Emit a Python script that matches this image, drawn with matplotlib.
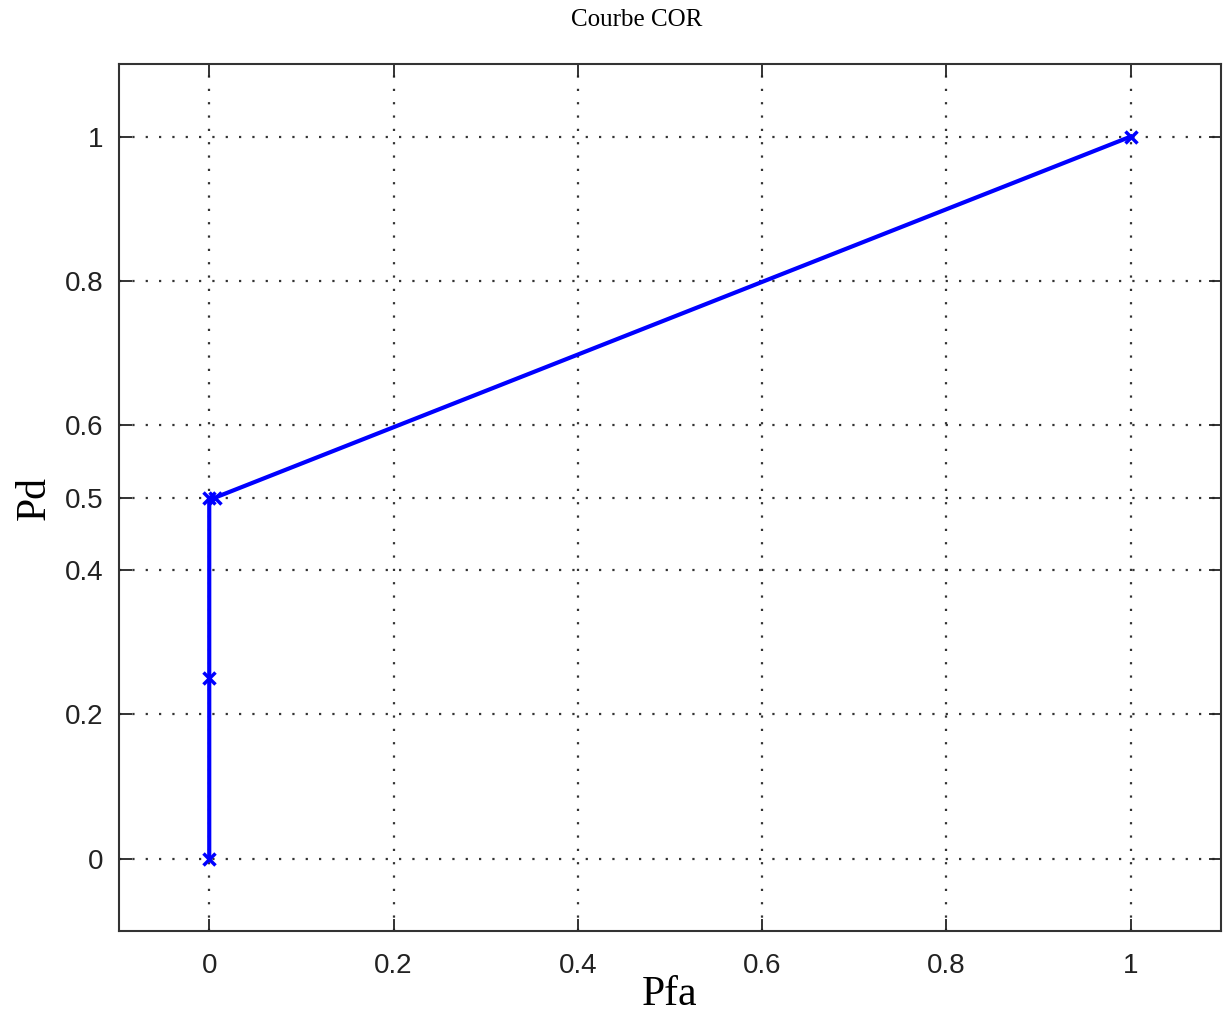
import numpy as np
import matplotlib
matplotlib.use("Agg")
import matplotlib.pyplot as plt

# ROC curve data (Pfa, Pd)
pfa = [0.0, 0.0, 0.0, 0.006, 1.0]
pd_ = [0.0, 0.25, 0.5, 0.5, 1.0]

x_ticks = [0, 0.2, 0.4, 0.6, 0.8, 1]
y_ticks = [0, 0.2, 0.4, 0.5, 0.6, 0.8, 1]

fig = plt.figure(figsize=(12.25, 10.22), dpi=100)
ax = fig.add_axes([0.0971, 0.089, 0.8996, 0.848])

ax.plot(pfa, pd_, color="#0000ff", linewidth=3, marker="x", markersize=8, markeredgewidth=2.5)

ax.set_xlim(-0.098, 1.098)
ax.set_ylim(-0.1, 1.1)
ax.set_xticks(x_ticks)
ax.set_yticks(y_ticks)
ax.set_xticklabels([f"{t:g}" for t in x_ticks])
ax.set_yticklabels([f"{t:g}" for t in y_ticks])

ax.grid(True, linestyle=(0, (1, 5)), color="#333333", linewidth=1.6)
ax.tick_params(direction="in", length=9, width=1.3, top=True, right=True,
               labelsize=20, pad=11, colors="#222222")
ax.tick_params(axis="x", pad=16)
for lab in ax.get_xticklabels() + ax.get_yticklabels():
    lab.set_family("Liberation Sans")
for s in ax.spines.values():
    s.set_linewidth(1.5)
    s.set_color("#333333")

ax.set_xlabel("Pfa", fontsize=30, family="Liberation Serif", labelpad=-3)
ax.set_ylabel("Pd", fontsize=30, family="Liberation Serif", labelpad=8)
fig.text(0.52, 0.98, "Courbe COR", ha="center", va="center", fontsize=18, family="Liberation Serif")

fig.savefig("out.png", dpi=100)
